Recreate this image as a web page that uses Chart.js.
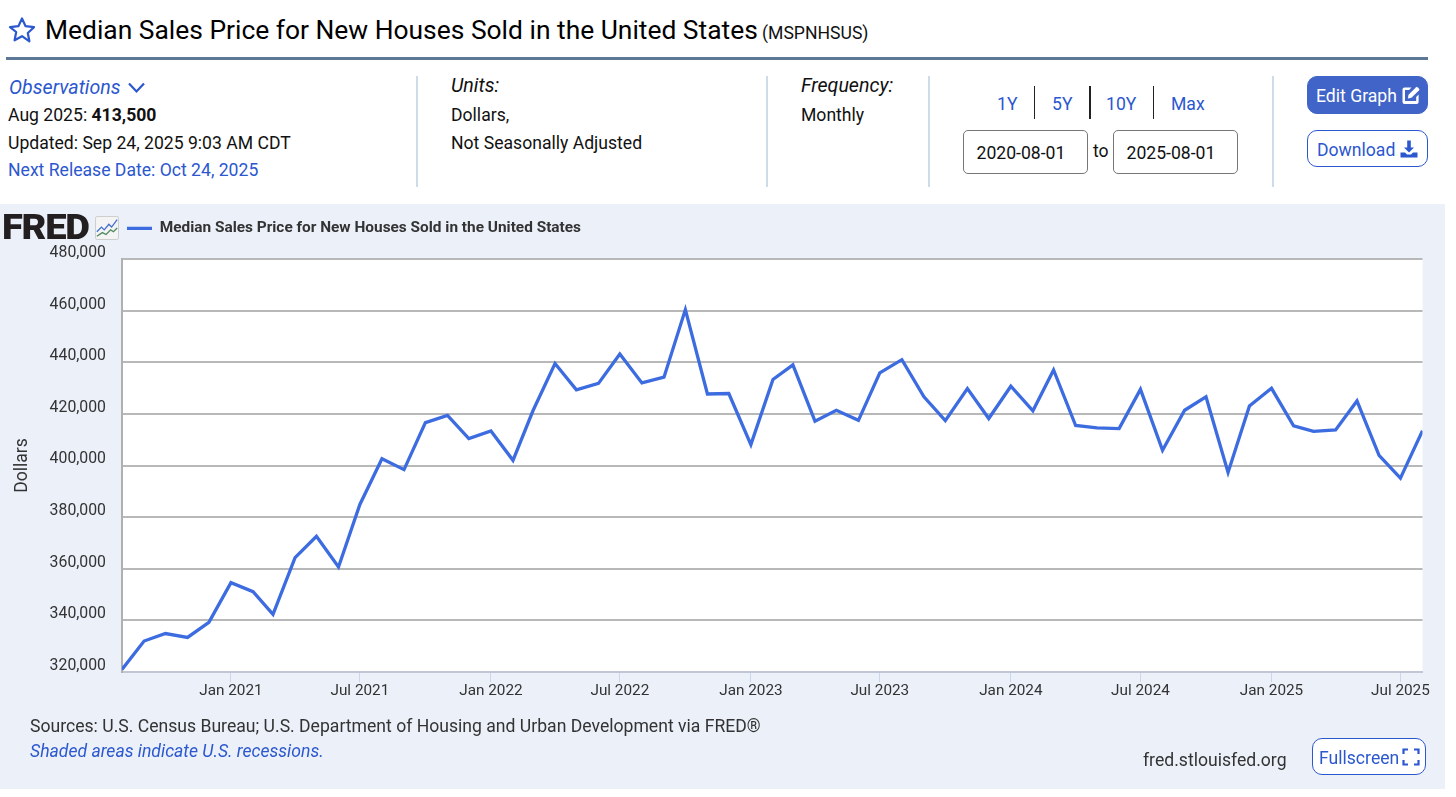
<!DOCTYPE html>
<html>
<head>
<meta charset="utf-8">
<title>MSPNHSUS</title>
<script src="https://cdn.jsdelivr.net/npm/chart.js@4"></script>
<style>
  html, body { margin: 0; padding: 0; background: #fff; width: 1456px; height: 797px; overflow: hidden; font-family: Roboto, sans-serif; color: #111; }
  .a { position: absolute; white-space: nowrap; line-height: 24px; font-size: 17.6px; }
  .blue { color: #2b57cf; }
  .it { font-style: italic; }
  .head { font-size: 19.6px; }
  .div { position: absolute; top: 76px; height: 111px; width: 2px; background: #cddce8; }
  .sep { position: absolute; top: 86px; height: 33px; width: 1px; background: #222; }
  .inp { position: absolute; top: 130px; width: 110px; height: 42px; border: 1px solid #777; border-radius: 5px; background: #fff; font-size: 17.6px; line-height: 45px; padding-left: 12.5px; }
  .btn { position: absolute; box-sizing: border-box; border-radius: 10px; font-size: 17.6px; border: 1px solid #2b57cf; color: #2b57cf; background: #fff; }
  .btn span { position: absolute; top: 50%; transform: translateY(-47%); white-space: nowrap; }
  .btn svg { position: absolute; }
  #panel { position: absolute; left: 0; top: 204px; width: 1445px; height: 585px; background: #ebf0f9; }
  #panel canvas { position: absolute; left: 0; top: 0; }
</style>
</head>
<body>

<svg class="a" style="left:8px;top:16px" width="28" height="27" viewBox="0 0 28 27"><path d="M14 2.5l3.6 7.7 8.4 1-6.2 5.8 1.6 8.3L14 20.2l-7.4 4.1 1.6-8.3L2 11.2l8.4-1z" fill="none" stroke="#2b57cf" stroke-width="2.2" stroke-linejoin="round"/></svg>
<div class="a" style="left:45px;top:15px;font-size:26.4px;line-height:30px;color:#000">Median Sales Price for New Houses Sold in the United States</div>
<div class="a" style="left:762px;top:21px;color:#111">(MSPNHSUS)</div>
<div style="position:absolute;left:6px;top:57px;width:1422px;height:3px;background:#5d7797"></div>

<div class="a blue it head" style="left:9px;top:76px">Observations</div>
<svg class="a" style="left:127px;top:81px" width="19" height="13" viewBox="0 0 19 13"><path d="M2 2.5l7.5 8 7.5-8" fill="none" stroke="#2b57cf" stroke-width="2.2"/></svg>
<div class="a" style="left:8px;top:103px">Aug 2025: <b>413,500</b></div>
<div class="a" style="left:8px;top:131px">Updated: Sep 24, 2025 9:03 AM CDT</div>
<div class="a blue" style="left:8px;top:158px">Next Release Date: Oct 24, 2025</div>

<div class="div" style="left:416px"></div>
<div class="a it head" style="left:451px;top:74px">Units:</div>
<div class="a" style="left:451px;top:103px">Dollars,</div>
<div class="a" style="left:451px;top:131px">Not Seasonally Adjusted</div>

<div class="div" style="left:766px"></div>
<div class="a it head" style="left:801px;top:74px">Frequency:</div>
<div class="a" style="left:801px;top:103px">Monthly</div>

<div class="div" style="left:928px"></div>
<div class="a blue" style="left:997px;top:92px">1Y</div>
<div class="sep" style="left:1034px"></div>
<div class="a blue" style="left:1052px;top:92px">5Y</div>
<div class="sep" style="left:1089px;width:2px"></div>
<div class="a blue" style="left:1106px;top:92px">10Y</div>
<div class="sep" style="left:1153px"></div>
<div class="a blue" style="left:1171px;top:92px">Max</div>
<div class="inp" style="left:963px">2020-08-01</div>
<div class="a" style="left:1093px;top:139px">to</div>
<div class="inp" style="left:1113px">2025-08-01</div>

<div class="div" style="left:1272px"></div>
<div class="btn" style="left:1307px;top:76px;width:121px;height:38px;background:#4064c8;border-color:#4064c8;color:#fff">
  <span style="left:8px">Edit Graph</span>
  <svg style="left:93px;top:8px" width="20" height="20" viewBox="0 0 20 20"><path d="M1.5 4.5a2 2 0 0 1 2-2h7l-2.4 2.4H4v11.2h11.2v-4.2l2.4-2.4v7.4a2 2 0 0 1-2 2H3.5a2 2 0 0 1-2-2z" fill="#fff"/><path d="M7.5 9.8l7.6-7.6a1 1 0 0 1 1.4 0l1.6 1.6a1 1 0 0 1 0 1.4l-7.6 7.6-3.6.6z" fill="#fff"/></svg>
</div>
<div class="btn" style="left:1307px;top:130px;width:121px;height:37px">
  <span style="left:9px">Download</span>
  <svg style="left:91px;top:8px" width="20" height="20" viewBox="0 0 20 20"><path d="M8.2 1.5h3.6v7H15L10 13.5 5 8.5h3.2z" fill="#2b57cf"/><path d="M1.5 13.5h4.5l2 2h4l2-2h4.5v5h-17z" fill="#2b57cf"/></svg>
</div>

<div id="panel">
  <canvas id="chart" width="1445" height="585"></canvas>
  <div class="a" style="left:2px;top:6px;font-size:35px;line-height:36px;font-weight:900;letter-spacing:-1.2px;color:#231f20;transform:scaleX(1.09);transform-origin:left">FRED</div>
  <svg class="a" style="left:95px;top:12px" width="24" height="24" viewBox="0 0 26 26"><rect x="0.5" y="0.5" width="25" height="25" rx="2" fill="#f4f4f4" stroke="#c8c8c8"/><path d="M2 17l5-5 3 3 5-6 3 3 6-8" fill="none" stroke="#3f6fd0" stroke-width="1.4"/><path d="M2 22l6-4 4 2 5-5 3 2 4-4" fill="none" stroke="#4f8a5f" stroke-width="1.4"/></svg>
  <div class="a" style="left:30px;top:510px;color:#333">Sources: U.S. Census Bureau; U.S. Department of Housing and Urban Development via FRED®</div>
  <div class="a blue it" style="left:30px;top:535px">Shaded areas indicate U.S. recessions.</div>
  <div class="a" style="left:1143px;top:544px;color:#333">fred.stlouisfed.org</div>
  <div class="btn" style="left:1312px;top:534px;width:114px;height:37px">
    <span style="left:6px">Fullscreen</span>
    <svg style="left:89px;top:9px" width="18" height="18" viewBox="0 0 18 18"><path d="M1.5 6V1.5H6M12 1.5h4.5V6M16.5 12v4.5H12M6 16.5H1.5V12" fill="none" stroke="#2b57cf" stroke-width="2.2"/></svg>
  </div>
</div>

<script>
const seriesName = 'Median Sales Price for New Houses Sold in the United States';

const months = [
  '2020-08-01', '2020-09-01', '2020-10-01', '2020-11-01', '2020-12-01',
  '2021-01-01', '2021-02-01', '2021-03-01', '2021-04-01', '2021-05-01', '2021-06-01',
  '2021-07-01', '2021-08-01', '2021-09-01', '2021-10-01', '2021-11-01', '2021-12-01',
  '2022-01-01', '2022-02-01', '2022-03-01', '2022-04-01', '2022-05-01', '2022-06-01',
  '2022-07-01', '2022-08-01', '2022-09-01', '2022-10-01', '2022-11-01', '2022-12-01',
  '2023-01-01', '2023-02-01', '2023-03-01', '2023-04-01', '2023-05-01', '2023-06-01',
  '2023-07-01', '2023-08-01', '2023-09-01', '2023-10-01', '2023-11-01', '2023-12-01',
  '2024-01-01', '2024-02-01', '2024-03-01', '2024-04-01', '2024-05-01', '2024-06-01',
  '2024-07-01', '2024-08-01', '2024-09-01', '2024-10-01', '2024-11-01', '2024-12-01',
  '2025-01-01', '2025-02-01', '2025-03-01', '2025-04-01', '2025-05-01', '2025-06-01',
  '2025-07-01', '2025-08-01'
];

const prices = [
  321000, 332000, 334900, 333400, 339250,
  354600, 351100, 342350, 364300, 372600, 360700,
  384900, 402600, 398400, 416600, 419400, 410400,
  413400, 402000, 421200, 439500, 429300, 431800,
  443200, 432000, 434200, 460400, 427700, 427900,
  408100, 433300, 439000, 417200, 421400, 417500,
  435900, 441000, 426600, 417400, 429800, 418200,
  430700, 421200, 437000, 415500, 414600, 414300,
  429500, 405900, 421400, 426600, 397300, 423100,
  429900, 415400, 413200, 413800, 425000, 403900,
  395100, 413500
];

const tickDates = ['2021-01-01', '2021-07-01', '2022-01-01', '2022-07-01', '2023-01-01', '2023-07-01',
  '2024-01-01', '2024-07-01', '2025-01-01', '2025-07-01'];
const tickLabels = ['Jan 2021', 'Jul 2021', 'Jan 2022', 'Jul 2022', 'Jan 2023', 'Jul 2023',
  'Jan 2024', 'Jul 2024', 'Jan 2025', 'Jul 2025'];

const toTime = s => new Date(s + 'T00:00:00Z').getTime();
const tickTimes = tickDates.map(toTime);

const plotBackground = {
  id: 'plotBackground',
  beforeDraw(chart) {
    const a = chart.chartArea;
    chart.ctx.fillStyle = '#ffffff';
    chart.ctx.fillRect(a.left, a.top, a.width, a.height);
  }
};

// legend sits right above the plot by default, FRED has it higher up next to the logo
const legendUp = {
  id: 'legendUp',
  afterLayout(chart) {
    chart.legend.top -= 13;
    chart.legend.bottom -= 13;
  }
};

new Chart(document.getElementById('chart').getContext('2d'), {
  type: 'line',
  data: {
    datasets: [{
      label: seriesName,
      data: months.map((m, i) => ({ x: toTime(m), y: prices[i] })),
      borderColor: '#3c6ce0',
      backgroundColor: '#3c6ce0',
      borderWidth: 3.3,
      borderJoinStyle: 'miter',
      pointRadius: 0,
      tension: 0
    }]
  },
  options: {
    responsive: false,
    animation: false,
    layout: { padding: { top: 0, right: 22.5, bottom: 0, left: 0 } },
    plugins: {
      tooltip: { enabled: false },
      legend: {
        display: true,
        position: 'top',
        align: 'start',
        fullSize: false,
        labels: {
          boxWidth: 25,
          boxHeight: 0,
          padding: 5,
          color: '#333333',
          font: { family: 'Roboto', size: 15.4, weight: 'bold' }
        }
      }
    },
    scales: {
      x: {
        type: 'linear',
        min: toTime(months[0]),
        max: toTime(months[months.length - 1]),
        afterBuildTicks: s => { s.ticks = tickTimes.map(v => ({ value: v })); },
        afterFit: s => { s.height = 117; },
        border: { color: '#c0c6d4', width: 2 },
        grid: { drawOnChartArea: false, drawTicks: true, tickLength: 10, color: '#ccd6eb', lineWidth: 1 },
        ticks: {
          autoSkip: false,
          maxRotation: 0,
          padding: 0,
          color: '#333333',
          font: { family: 'Roboto', size: 15.3 },
          callback: v => tickLabels[tickTimes.indexOf(v)]
        }
      },
      y: {
        min: 320000,
        max: 480000,
        afterFit: s => { s.width = 122; s.paddingTop = 55; },
        border: { color: '#b0b0b0', width: 2 },
        grid: { drawTicks: false, color: '#b8b8b8', lineWidth: 2 },
        title: { display: true, text: 'Dollars', color: '#333333', font: { family: 'Roboto', size: 17.6 }, padding: { top: 12, bottom: 0 } },
        ticks: {
          stepSize: 20000,
          padding: 16,
          labelOffset: -6,
          color: '#333333',
          font: { family: 'Roboto', size: 15.8 },
          callback: v => v.toLocaleString('en-US')
        }
      }
    }
  },
  plugins: [plotBackground, legendUp]
});
</script>
</body>
</html>
